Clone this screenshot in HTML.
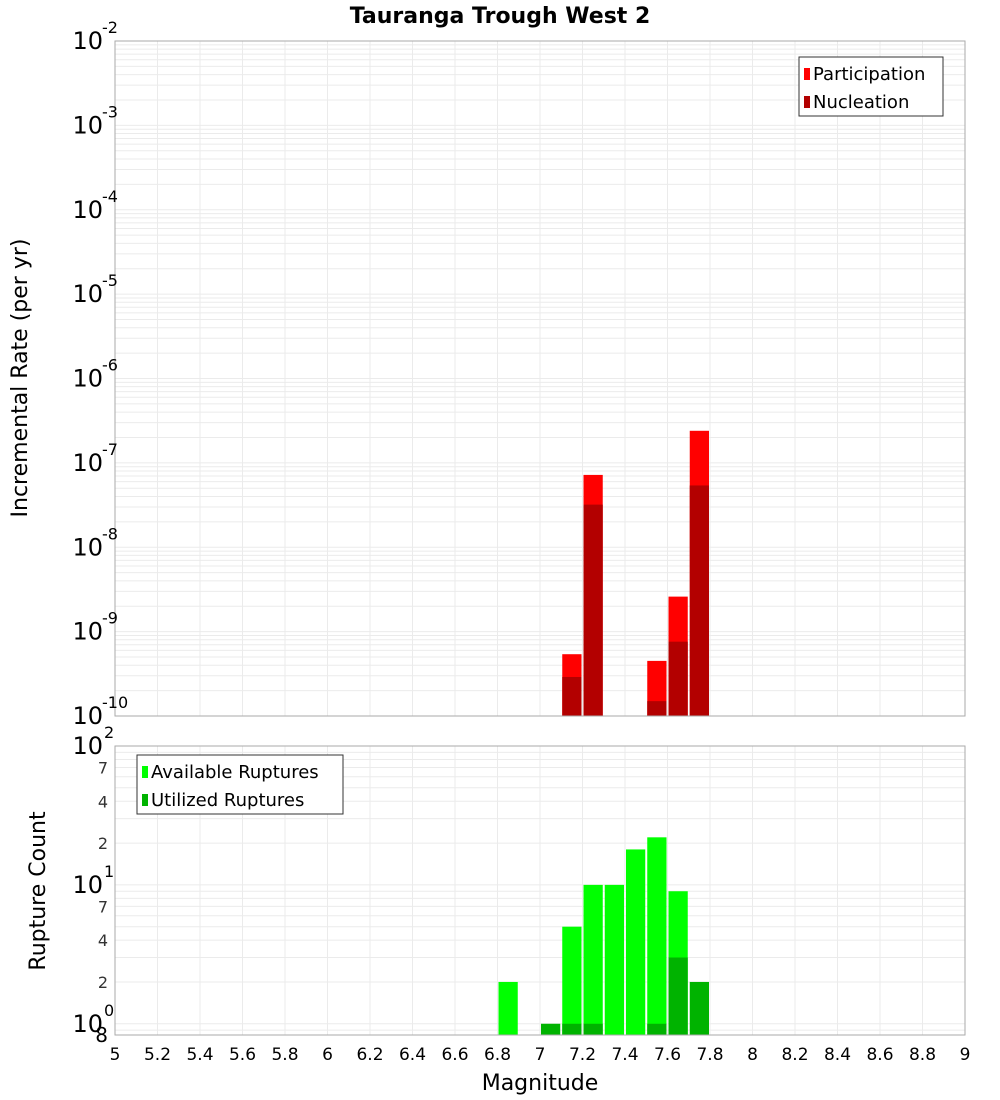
<!DOCTYPE html>
<html><head><meta charset="utf-8"><style>body{margin:0;background:#fff}svg{display:block;font-family:"DejaVu Sans","Liberation Sans",sans-serif}</style></head>
<body>
<svg id="c" width="1000" height="1100" xmlns="http://www.w3.org/2000/svg">
<text x="500" y="23" text-anchor="middle" font-size="22" font-weight="bold">Tauranga Trough West 2</text>
<text transform="translate(27,378) rotate(-90)" text-anchor="middle" font-size="22">Incremental Rate (per yr)</text>
<text transform="translate(45,891) rotate(-90)" text-anchor="middle" font-size="22">Rupture Count</text>
<text x="540" y="1090" text-anchor="middle" font-size="22">Magnitude</text>
<g id="g"></g>
</svg>
<script>
const mags = [6.85, 7.05, 7.15, 7.25, 7.35, 7.45, 7.55, 7.65, 7.75];
const partMags = [7.15, 7.25, 7.55, 7.65, 7.75];
const participation = [5.4e-10, 7.2e-8, 4.5e-10, 2.6e-9, 2.4e-7];
const nucleation = [2.9e-10, 3.2e-8, 1.5e-10, 7.6e-10, 5.4e-8];
const available = [2, 0, 5, 10, 10, 18, 22, 9, 0];
const utilized = [0, 1, 1, 1, 0, 0, 1, 3, 2];
const xTicks = [5,5.2,5.4,5.6,5.8,6,6.2,6.4,6.6,6.8,7,7.2,7.4,7.6,7.8,8,8.2,8.4,8.6,8.8,9];
const topExps = [-2,-3,-4,-5,-6,-7,-8,-9,-10];
const ns='http://www.w3.org/2000/svg', g=document.getElementById('g');
const L=115,R=965,T1=41,B1=716,T2=746,B2=1035;
const x=m=>L+(m-5)/4*(R-L);
const y1=v=>T1+(-2-Math.log10(v))/8*(B1-T1);
const lo2=Math.log10(0.83);
const y2=v=>T2+(2-Math.log10(v))/(2-lo2)*(B2-T2);
function el(t,a,txt){const e=document.createElementNS(ns,t);for(const k in a)e.setAttribute(k,a[k]);if(txt!==undefined)e.textContent=txt;g.appendChild(e);return e;}
// panel backgrounds and grids
[[T1,B1],[T2,B2]].forEach(([t,b],pi)=>{
  const r=el('rect',{x:L,y:t,width:R-L,height:b-t,fill:'#fff'});
  
  
  xTicks.forEach(m=>{const l=el('line',{x1:x(m),x2:x(m),y1:t,y2:b,stroke:'#ebebeb'});
    });
});
for(let e=-10;e<-2;e++)for(let k=1;k<10;k++){const v=k*Math.pow(10,e);const yy=y1(v);
  const l=el('line',{x1:L,x2:R,y1:yy,y2:yy,stroke:'#ebebeb'});}
for(let e=-1;e<2;e++)for(let k=1;k<10;k++){const v=k*Math.pow(10,e);if(v<0.83)continue;const yy=y2(v);
  const l=el('line',{x1:L,x2:R,y1:yy,y2:yy,stroke:'#ebebeb'});}
// top bars
const bw=(x(5.1)-x(5))-2;
partMags.forEach((m,i)=>{
  let r=el('rect',{x:x(m)-bw/2,y:y1(participation[i]),width:bw,height:B1-y1(participation[i]),fill:'#ff0000'});
  
  r=el('rect',{x:x(m)-bw/2,y:y1(nucleation[i]),width:bw,height:B1-y1(nucleation[i]),fill:'#b30000'});
  
});
mags.forEach((m,i)=>{
  if(available[i]>0){const r=el('rect',{x:x(m)-bw/2,y:y2(available[i]),width:bw,height:B2-y2(available[i]),fill:'#00ff00'});
    }
  if(utilized[i]>0){const r=el('rect',{x:x(m)-bw/2,y:y2(utilized[i]),width:bw,height:B2-y2(utilized[i]),fill:'#00b300'});
    }
});
// borders
[[T1,B1],[T2,B2]].forEach(([t,b])=>{const r=el('rect',{x:L,y:t,width:R-L,height:b-t,fill:'none',stroke:'#aaa'});
  });
// x ticks
xTicks.forEach(m=>{const t=el('text',{x:x(m),y:1060,'text-anchor':'middle','font-size':17},String(m));
  });
// top y labels
topExps.forEach(e=>{const yy=y1(Math.pow(10,e));
  const t=el('text',{x:103,y:yy+8,'text-anchor':'end','font-size':24},'10');
  
  const s=el('text',{x:102,y:yy-8,'font-size':16},String(e));
  });
// bottom y labels
[[2,'2'],[1,'1'],[0,'0']].forEach(([e,s])=>{const yy=y2(Math.pow(10,e));
  const t=el('text',{x:103,y:yy+8,'text-anchor':'end','font-size':24},'10');
  
  const u=el('text',{x:104,y:yy-8,'font-size':16},s);
  });
[2,4,7,20,40,70].forEach(v=>{const yy=y2(v);
  const t=el('text',{x:108,y:yy+6,'text-anchor':'end','font-size':16,fill:'#333'},String(v).charAt(0));
  });
{const t=el('text',{x:108,y:1042,'text-anchor':'end','font-size':20},'8');}
// legends
function legend(x0,y0,w,items,name){
  const r=el('rect',{x:x0,y:y0,width:w,height:59,fill:'#fff',stroke:'#333'});
  
  items.forEach(([c,txt],i)=>{const s=el('rect',{x:x0+5,y:y0+11+i*28,width:6,height:12,fill:c});
    
    const t=el('text',{x:x0+14,y:y0+23+i*28,'font-size':18},txt);
    });
}
legend(799,57,144,[['#ff0000','Participation'],['#b30000','Nucleation']],'top-legend');
legend(137,755,206,[['#00ff00','Available Ruptures'],['#00b300','Utilized Ruptures']],'bottom-legend');
</script>
</body></html>
